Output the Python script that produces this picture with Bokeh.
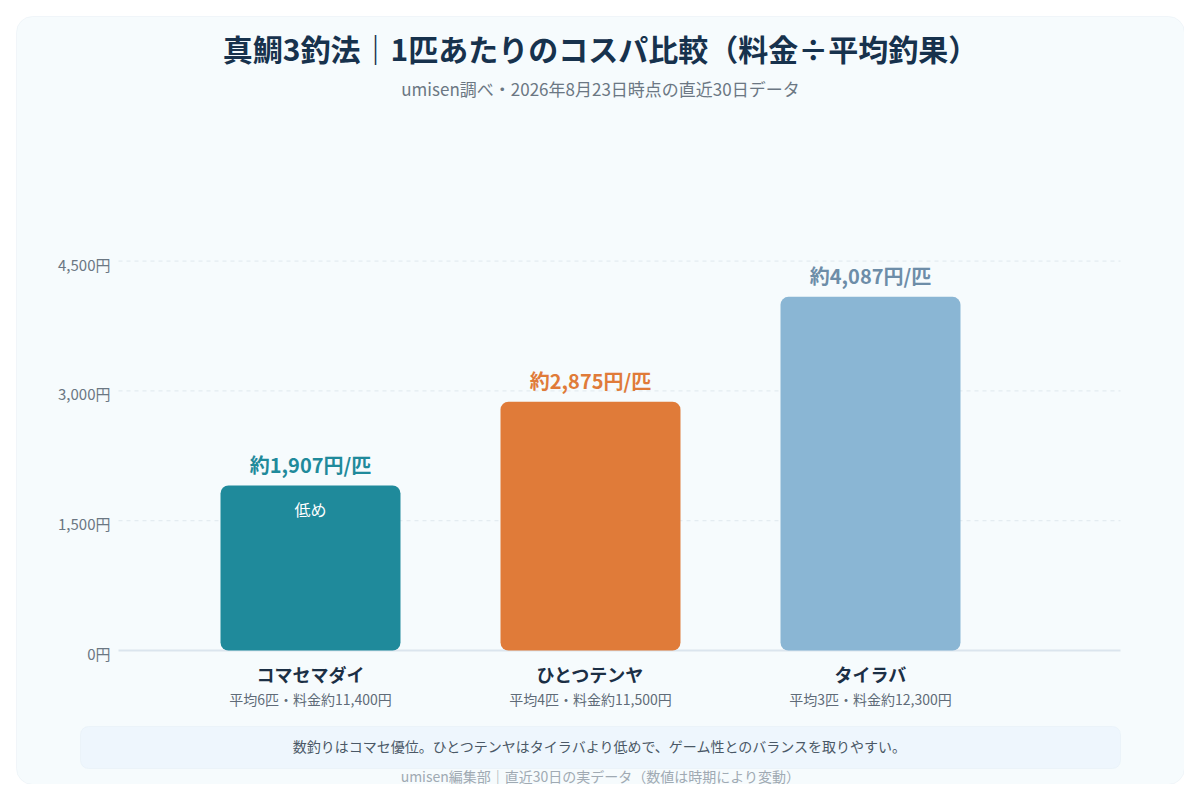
from bokeh.plotting import figure
from bokeh.models import Label, BoxAnnotation, Range1d, ColumnDataSource
from bokeh.core.properties import value
from bokeh.embed import file_html
from bokeh.resources import INLINE

# data
methods = ["コマセマダイ", "ひとつテンヤ", "タイラバ"]
cost_per_fish = [1907, 2875, 4087]
avg_catch = [6, 4, 3]
fee = [11400, 11500, 12300]
value_labels = ["約1,907円/匹", "約2,875円/匹", "約4,087円/匹"]
y_ticks = [0, 1500, 3000, 4500]
y_tick_labels = ["0円", "1,500円", "3,000円", "4,500円"]
bar_colors = ["#1f8a9b", "#e07b39", "#8ab6d4"]
label_colors = ["#1f8a9b", "#e07b39", "#6d8da8"]

FONT = "Noto Sans CJK JP"
Y_MAX = 5200
FRAME_H = 450

# page px -> data helpers (the whole figure is the plot frame)
def sx(px):
    return (px - 310) / 280.0

def sy(py):
    return (650 - py) * Y_MAX / FRAME_H

p = figure(width=1184, height=784, output_backend="svg", toolbar_location=None,
           x_range=Range1d(sx(0), sx(1184)), y_range=Range1d(sy(784), sy(0)),
           min_border=0, x_axis_location=None, y_axis_location=None,
           background_fill_color="#ffffff", border_fill_color="#ffffff", outline_line_color=None)
p.xgrid.visible = False
p.ygrid.visible = False

# card
p.add_layout(BoxAnnotation(left=sx(16), right=sx(1184), bottom=sy(784), top=sy(16),
                           fill_color="#f6fbfd", fill_alpha=1.0, line_color="#dce6ed",
                           line_width=1, border_radius=16, level="underlay"))

# y axis: gridlines, zero line and tick labels
grid = ColumnDataSource(dict(y=y_ticks[1:], x0=[sx(118)] * 3, x1=[sx(1120)] * 3))
p.segment(x0="x0", x1="x1", y0="y", y1="y", source=grid,
          line_color="#dfe8ee", line_width=1, line_dash="4 4")
p.segment(x0=sx(118), x1=sx(1120), y0=0, y1=0, line_color="#dbe5ee", line_width=2)
ticks = ColumnDataSource(dict(y=y_ticks, text=y_tick_labels, x=[sx(110)] * len(y_ticks)))
p.text(x="x", y="y", text="text", source=ticks, text_align="right", text_baseline="middle",
       y_offset=3, text_font=value(FONT), text_font_size="15px", text_color="#6b7783")

half = 0.3214
for i, v in enumerate(cost_per_fish):
    p.add_layout(BoxAnnotation(left=i - half, right=i + half, bottom=0, top=v,
                               fill_color=bar_colors[i], fill_alpha=1.0, line_alpha=0,
                               border_radius=8))
    p.add_layout(Label(x=i, y=v, text=value_labels[i], text_align="center", text_baseline="middle",
                       y_offset=21, text_font=FONT, text_font_style="bold", text_font_size="20px",
                       text_color=label_colors[i]))
    p.add_layout(Label(x=i, y=sy(673), text=methods[i], text_align="center", text_baseline="middle",
                       text_font=FONT, text_font_style="bold", text_font_size="18px",
                       text_color="#1b2f45"))
    p.add_layout(Label(x=i, y=sy(698), text=f"平均{avg_catch[i]}匹・料金約{fee[i]:,}円",
                       text_align="center", text_baseline="middle",
                       text_font=FONT, text_font_size="14px", text_color="#5f6b78"))

p.add_layout(Label(x=0, y=cost_per_fish[0], text="低め", text_align="center", text_baseline="middle",
                   y_offset=-24, text_font=FONT, text_font_size="16px", text_color="#ffffff"))

# title block
p.add_layout(Label(x=sx(600), y=sy(47), text="真鯛3釣法｜1匹あたりのコスパ比較（料金÷平均釣果）",
                   text_align="center", text_baseline="middle", text_font=FONT,
                   text_font_style="bold", text_font_size="30px", text_color="#17324d"))
p.add_layout(Label(x=sx(600), y=sy(88), text="umisen調べ・2026年8月23日時点の直近30日データ",
                   text_align="center", text_baseline="middle", text_font=FONT,
                   text_font_size="17px", text_color="#6b7783"))

# note box + footer
p.add_layout(BoxAnnotation(left=sx(80), right=sx(1120), bottom=sy(768), top=sy(726),
                           fill_color="#eef6fd", fill_alpha=1.0, line_color="#dbe8f2",
                           line_width=1, border_radius=8))
p.add_layout(Label(x=sx(600), y=sy(745),
                   text="数釣りはコマセ優位。ひとつテンヤはタイラバより低めで、ゲーム性とのバランスを取りやすい。",
                   text_align="center", text_baseline="middle", text_font=FONT,
                   text_font_size="14px", text_color="#4a5866"))
p.add_layout(Label(x=sx(600), y=sy(775), text="umisen編集部｜直近30日の実データ（数値は時期により変動）",
                   text_align="center", text_baseline="middle", text_font=FONT,
                   text_font_size="14px", text_color="#a0aab3"))

open("out.html", "w").write(file_html(p, INLINE))
